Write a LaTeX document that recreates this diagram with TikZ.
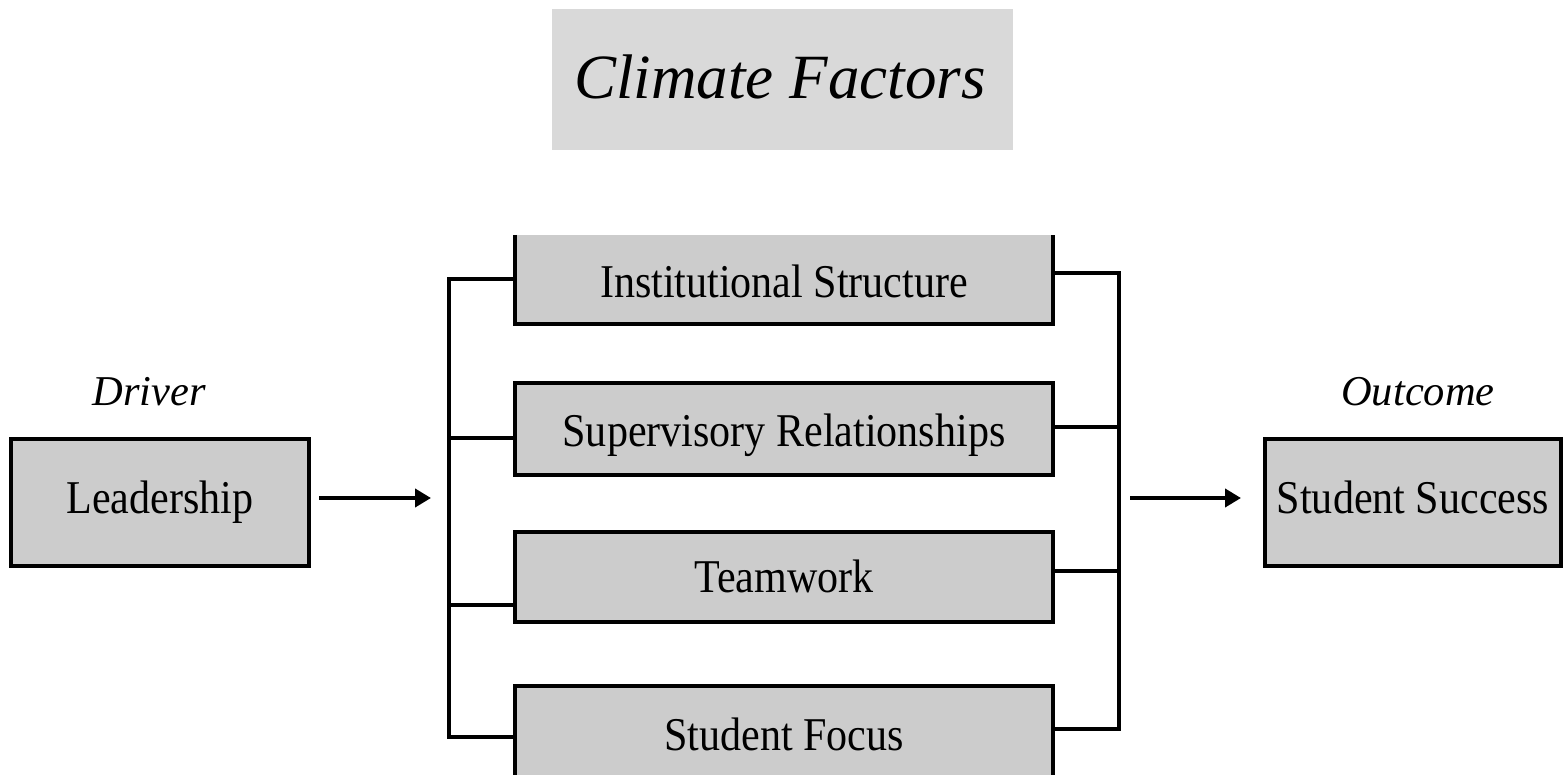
\documentclass[tikz,border=0pt]{standalone}
\usepackage{fontspec}
\setmainfont{Liberation Serif}
\newfontfamily\cond[FakeStretch=0.895]{Liberation Serif}
\usetikzlibrary{arrows.meta}
\definecolor{boxgray}{HTML}{CCCCCC}
\definecolor{titlegray}{HTML}{D9D9D9}
\begin{document}
\begin{tikzpicture}[x=1pt,y=-1pt,
  gbox/.style={fill=boxgray,inner sep=0pt,outer sep=0pt,line width=4.5pt,minimum width=538pt},
  edge/.style={draw=black,line width=4.5pt,line join=miter},
  lbl/.style={font=\cond\fontsize{47}{50}\selectfont,inner sep=0pt,anchor=base},
  ital/.style={font=\itshape\fontsize{42.5}{45}\selectfont,inner sep=0pt,anchor=base},
  bus/.style={draw=black,line width=3.5pt,line cap=butt},
  arr/.style={draw=black,line width=4.5pt,-{Triangle[length=16pt,width=18pt]}}
]
\useasboundingbox (0,0) rectangle (1563,775);

% title
\node[fill=titlegray,minimum width=461pt,minimum height=141pt,inner sep=0pt] (titlebox) at (782.5,79.5) {};
\node[font=\itshape\fontsize{63}{66}\selectfont,inner sep=0pt,anchor=base] (title) at (780,99) {Climate Factors};

% driver / outcome
\node[gbox,draw=black,minimum width=298pt,minimum height=127pt] (lead) at (160,502.5) {};
\node[lbl] (leadT) at (160,513) {Leadership};
\node[ital] (driver) at (149,405) {Driver};

\node[gbox,draw=black,minimum width=296pt,minimum height=127pt] (succ) at (1413,502.5) {};
\node[lbl] (succT) at (1413,513) {Student Success};
\node[ital] (outcome) at (1418,405) {Outcome};

% factor boxes
\node[gbox,minimum height=89pt] (inst) at (784,279.5) {};
\draw[edge] (inst.north west) |- (inst.south east) -- (inst.north east);
\node[lbl] (instT) at (784,298) {Institutional Structure};

\node[gbox,draw=black,minimum height=92pt] (sup) at (784,429) {};
\node[lbl] (supT) at (784,446) {Supervisory Relationships};

\node[gbox,draw=black,minimum height=90pt] (team) at (784,577) {};
\node[lbl] (teamT) at (784,592) {Teamwork};

\node[gbox,minimum height=94pt] (focus) at (784,733) {};
\draw[edge] (focus.south west) |- (focus.north east) -- (focus.south east);
\node[lbl] (focusT) at (784,750) {Student Focus};

% left bus
\coordinate (lt) at (449,279);
\coordinate (lb) at (449,737);
\draw[bus] (inst.west |- lt) -- (lt) -- (lb) -- (focus.west |- lb);
\draw[bus] (449,438) -- (sup.west |- 0,438);
\draw[bus] (449,605) -- (team.west |- 0,605);

% right bus
\coordinate (rt) at (1119,273);
\coordinate (rb) at (1119,729);
\draw[bus] (inst.east |- rt) -- (rt) -- (rb) -- (focus.east |- rb);
\draw[bus] (sup.east |- 0,427) -- (1119,427);
\draw[bus] (team.east |- 0,571) -- (1119,571);

% arrows
\coordinate (a1s) at (319,498);
\coordinate (a1e) at (431,498);
\coordinate (a2s) at (1130,498);
\coordinate (a2e) at (1241,498);
\draw[arr] (a1s) -- (a1e);
\draw[arr] (a2s) -- (a2e);
\end{tikzpicture}
\end{document}
